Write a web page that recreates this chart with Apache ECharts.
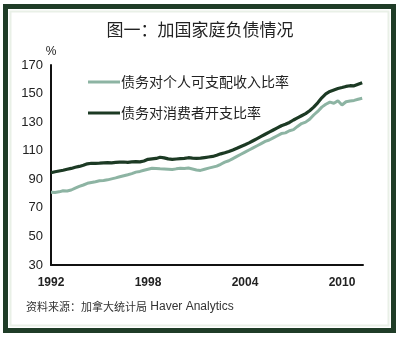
<!DOCTYPE html>
<html><head><meta charset="utf-8">
<script src="https://cdn.jsdelivr.net/npm/echarts@6/dist/echarts.min.js"></script>
<style>html,body{margin:0;padding:0;background:#fff}#c{width:400px;height:337px}</style>
</head><body><div id="c"></div>
<script>
const title = '图一：加国家庭负债情况';
const sourceCn = '资料来源：加拿大统计局';
const sourceEn = 'Haver Analytics';
const seriesNames = ['债务对个人可支配收入比率', '债务对消费者开支比率'];
const xTicks = [1992, 1998, 2004, 2010];
const yTicks = [30, 50, 70, 90, 110, 130, 150, 170];
// quarterly, 1992Q1 .. 2011Q2
const startYear = 1992;
const debtToIncome = [
  80.9, 80.8, 81.2, 82.0,
  81.8, 82.5, 83.8, 85.0,
  86.0, 87.2, 87.8, 88.3,
  89.0, 89.2, 89.6, 90.3,
  91.0, 91.8, 92.5, 93.2,
  94.0, 95.0, 95.5, 96.3,
  97.0, 97.7, 97.5, 97.3,
  97.2, 97.0, 96.8, 97.3,
  97.7, 97.5, 97.9, 97.2,
  96.5, 96.2, 97.0, 97.8,
  98.5, 99.2, 100.5, 102.0,
  103.0, 104.5, 106.0, 107.5,
  109.0, 110.5, 112.0, 113.5,
  115.0, 116.5, 117.5, 119.0,
  120.5, 122.0, 122.5, 124.0,
  124.8, 127.0, 129.0, 130.0,
  132.0, 135.0, 137.5, 140.5,
  142.5, 144.0, 143.2, 145.0,
  142.0, 144.3, 144.8, 145.2,
  146.0, 146.7
];
const debtToConsumption = [
  94.6, 95.3, 95.8, 96.3,
  97.0, 97.6, 98.4, 99.0,
  99.8, 100.8, 101.2, 101.2,
  101.3, 101.5, 101.6, 101.5,
  101.8, 102.0, 102.1, 101.9,
  102.2, 102.3, 102.2, 102.8,
  104.0, 104.3, 104.6, 105.4,
  105.0, 104.3, 104.0, 104.2,
  104.4, 104.6, 105.1, 104.8,
  104.7, 104.8, 105.2, 105.6,
  106.0, 106.8, 107.8, 108.6,
  109.5, 110.5, 111.7, 113.0,
  114.2, 115.5, 117.0, 118.5,
  120.0, 121.5, 123.0, 124.5,
  126.0, 127.5, 128.5, 129.8,
  131.5, 133.0, 134.5, 136.0,
  138.0, 140.5, 143.5, 147.0,
  149.8, 151.5, 152.5, 153.5,
  154.2, 155.0, 155.5, 155.4,
  156.5, 157.6
];
const toPairs = arr => arr.map((v, i) => [startYear + i / 4, v]);

const chart = echarts.init(document.getElementById('c'), null, {renderer: 'canvas'});
const FONT = 'Liberation Sans, Arial, Noto Sans CJK SC, sans-serif';
chart.setOption({
  backgroundColor: '#fff',
  animation: false,
  textStyle: {fontFamily: FONT},
  title: {
    text: title, left: 'center', top: 16,
    textStyle: {fontSize: 17, fontWeight: 'normal', color: '#222', fontFamily: 'Noto Sans CJK SC, sans-serif'}
  },
  legend: {
    orient: 'vertical', left: 83, top: 70, itemGap: 17,
    icon: 'rect', itemWidth: 32, itemHeight: 3,
    textStyle: {fontSize: 14, color: '#222', fontFamily: 'Noto Sans CJK SC, sans-serif', padding: [0, 0, 0, -4]},
    data: seriesNames
  },
  grid: {left: 51, right: 37, top: 65, bottom: 72},
  xAxis: {
    type: 'value', min: 1992, max: 2011.3, interval: 6,
    axisLine: {lineStyle: {color: '#111', width: 2}},
    axisTick: {show: false}, splitLine: {show: false},
    axisLabel: {
      margin: 12, fontSize: 12, fontWeight: 'bold', color: '#222',
      formatter: v => xTicks.includes(v) ? String(v) : ''
    }
  },
  yAxis: {
    type: 'value', min: 30, max: 170, interval: 20,
    name: '%', nameLocation: 'end', nameGap: 7,
    nameTextStyle: {fontSize: 12, color: '#222', align: 'center'},
    axisLine: {show: true, lineStyle: {color: '#111', width: 2}},
    axisTick: {show: false}, splitLine: {show: false},
    axisLabel: {margin: 8, fontSize: 13, color: '#222',
      formatter: v => yTicks.includes(v) ? String(v) : ''}
  },
  series: [
    {name: seriesNames[0], type: 'line', data: toPairs(debtToIncome), symbol: 'none',
     lineStyle: {color: '#8db4a3', width: 3}, itemStyle: {color: '#8db4a3'}, z: 2},
    {name: seriesNames[1], type: 'line', data: toPairs(debtToConsumption), symbol: 'none',
     lineStyle: {color: '#1c3a24', width: 3.2}, itemStyle: {color: '#1c3a24'}, z: 3}
  ],
  graphic: [
    {type: 'rect', shape: {x: 5.5, y: 6.5, width: 388, height: 324},
     style: {fill: 'none', stroke: '#1f3c27', lineWidth: 5}, z: 100},
    {type: 'rect', shape: {x: 10.5, y: 11.5, width: 378, height: 314},
     style: {fill: 'none', stroke: '#e9f0e7', lineWidth: 2}, z: 100},
    {type: 'text', left: 26, top: 301,
     style: {
       text: '{cn|' + sourceCn + '} {en|' + sourceEn + '}',
       rich: {
         cn: {fontSize: 11, fill: '#333', fontFamily: 'Noto Sans CJK SC, sans-serif'},
         en: {fontSize: 12, fill: '#333', fontFamily: 'Liberation Sans, Arial, sans-serif'}
       },
       fontSize: 12, fill: '#333'
     }}
  ]
});
</script></body></html>
